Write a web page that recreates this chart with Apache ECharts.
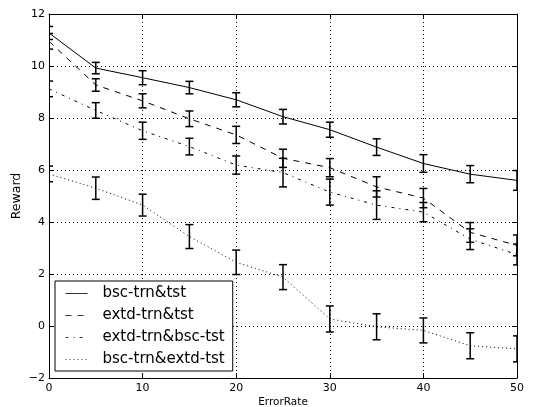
<!DOCTYPE html>
<html>
<head>
<meta charset="utf-8">
<script src="https://cdn.jsdelivr.net/npm/echarts@6/dist/echarts.min.js"></script>
<style>
html, body { margin: 0; padding: 0; background: #fff; }
#chart { width: 533px; height: 407px; }
</style>
</head>
<body>
<div id="chart"></div>
<script>
// 数据
var errorRates = [0, 5, 10, 15, 20, 25, 30, 35, 40, 45, 50];
var names = ['bsc-trn&tst', 'extd-trn&tst', 'extd-trn&bsc-tst', 'bsc-trn&extd-tst'];
var bscTrnTst = [11.27, 9.92, 9.55, 9.17, 8.7, 8.05, 7.55, 6.88, 6.25, 5.84, 5.6];
var bscTrnTstErr = [0.25, 0.22, 0.27, 0.24, 0.27, 0.28, 0.29, 0.32, 0.34, 0.33, 0.38];
var extdTrnTst = [10.95, 9.27, 8.66, 7.97, 7.35, 6.45, 6.09, 5.35, 4.92, 3.6, 3.1];
var extdTrnTstErr = [0.3, 0.24, 0.27, 0.3, 0.33, 0.35, 0.35, 0.39, 0.37, 0.38, 0.4];
var extdTrnBscTst = [9.12, 8.29, 7.51, 6.9, 6.19, 5.9, 5.15, 4.65, 4.38, 3.34, 2.75];
var extdTrnBscTstErr = [0.3, 0.3, 0.33, 0.32, 0.35, 0.55, 0.5, 0.55, 0.37, 0.4, 0.4];
var bscTrnExtdTst = [5.85, 5.3, 4.65, 3.44, 2.45, 1.88, 0.27, -0.03, -0.17, -0.76, -0.88];
var bscTrnExtdTstErr = [0.3, 0.43, 0.42, 0.46, 0.47, 0.48, 0.5, 0.5, 0.48, 0.5, 0.5];

var font = 'DejaVu Sans';
var chart = echarts.init(document.getElementById('chart'));

function pairs(ys) {
	var out = [];
	for (var i = 0; i < errorRates.length; i++) {
		out.push([errorRates[i], ys[i]]);
	}
	return out;
}

function errData(ys, errs) {
	var out = [];
	for (var i = 0; i < errorRates.length; i++) {
		out.push([errorRates[i], ys[i] - errs[i], ys[i] + errs[i]]);
	}
	return out;
}

// 误差棒
function renderErr(params, api) {
	var lo = api.coord([api.value(0), api.value(1)]);
	var hi = api.coord([api.value(0), api.value(2)]);
	var w = 4;
	var style = { stroke: '#000', lineWidth: 1.5 };
	return {
		type: 'group',
		children: [
			{ type: 'line', shape: { x1: lo[0], y1: lo[1], x2: hi[0], y2: hi[1] }, style: style },
			{ type: 'line', shape: { x1: lo[0] - w, y1: lo[1], x2: lo[0] + w, y2: lo[1] }, style: style },
			{ type: 'line', shape: { x1: hi[0] - w, y1: hi[1], x2: hi[0] + w, y2: hi[1] }, style: style }
		]
	};
}

function lineSeries(name, ys, dash) {
	return {
		name: name,
		type: 'line',
		data: pairs(ys),
		symbol: 'none',
		z: 3,
		lineStyle: { color: '#000', width: 1, type: dash },
		itemStyle: { color: '#000' }
	};
}

function errSeries(ys, errs) {
	return {
		type: 'custom',
		data: errData(ys, errs),
		renderItem: renderErr,
		clip: true,
		z: 4,
		encode: { x: 0, y: [1, 2] }
	};
}

var axisLine = { show: true, onZero: false, lineStyle: { color: '#000', width: 1 } };
var tick = { show: true, inside: true, length: 5, lineStyle: { color: '#000' } };
var grid = { show: true, lineStyle: { color: '#000', type: [1, 3], width: 1 } };

chart.setOption({
	animation: false,
	backgroundColor: '#fff',
	grid: { left: 49, right: 16, top: 14, bottom: 29, outerBoundsMode: 'none', containLabel: false },
	legend: {
		data: names,
		orient: 'vertical',
		left: 55,
		top: 281,
		padding: [5, 8, 4, 10],
		itemGap: 7,
		itemWidth: 22,
		itemHeight: 14,
		backgroundColor: '#fff',
		borderColor: '#000',
		borderWidth: 1,
		itemStyle: { opacity: 0 },
		lineStyle: { width: 1, color: '#333' },
		textStyle: { color: '#000', fontFamily: font, fontSize: 15, padding: [0, 0, 0, 10] }
	},
	xAxis: [{
		type: 'value', min: 0, max: 50, interval: 10,
		name: 'ErrorRate', nameLocation: 'middle', nameGap: 19, nameMoveOverlap: false,
		nameTextStyle: { color: '#000', fontFamily: font, fontSize: 10.5 },
		axisLine: axisLine, axisTick: tick, splitLine: grid,
		axisLabel: { color: '#000', fontFamily: font, fontSize: 11, margin: 5 }
	}, {
		type: 'value', position: 'top', min: 0, max: 50, interval: 10,
		axisLine: axisLine, axisTick: tick, splitLine: { show: false }, axisLabel: { show: false }
	}],
	yAxis: [{
		type: 'value', min: -2, max: 12, interval: 2,
		name: 'Reward', nameLocation: 'middle', nameGap: 26, nameMoveOverlap: false,
		nameTextStyle: { color: '#000', fontFamily: font, fontSize: 12.5 },
		axisLine: axisLine, axisTick: tick, splitLine: grid,
		axisLabel: {
			color: '#000', fontFamily: font, fontSize: 11, margin: 4,
			formatter: function(v) { return String(v).replace('-', '\u2212'); }
		}
	}, {
		type: 'value', position: 'right', min: -2, max: 12, interval: 2,
		axisLine: axisLine, axisTick: tick, splitLine: { show: false }, axisLabel: { show: false }
	}],
	series: [
		lineSeries(names[0], bscTrnTst, 'solid'),
		lineSeries(names[1], extdTrnTst, [6, 6]),
		lineSeries(names[2], extdTrnBscTst, [3, 5, 1, 5]),
		lineSeries(names[3], bscTrnExtdTst, [1, 3]),
		errSeries(bscTrnTst, bscTrnTstErr),
		errSeries(extdTrnTst, extdTrnTstErr),
		errSeries(extdTrnBscTst, extdTrnBscTstErr),
		errSeries(bscTrnExtdTst, bscTrnExtdTstErr)
	]
});
</script>
</body>
</html>
